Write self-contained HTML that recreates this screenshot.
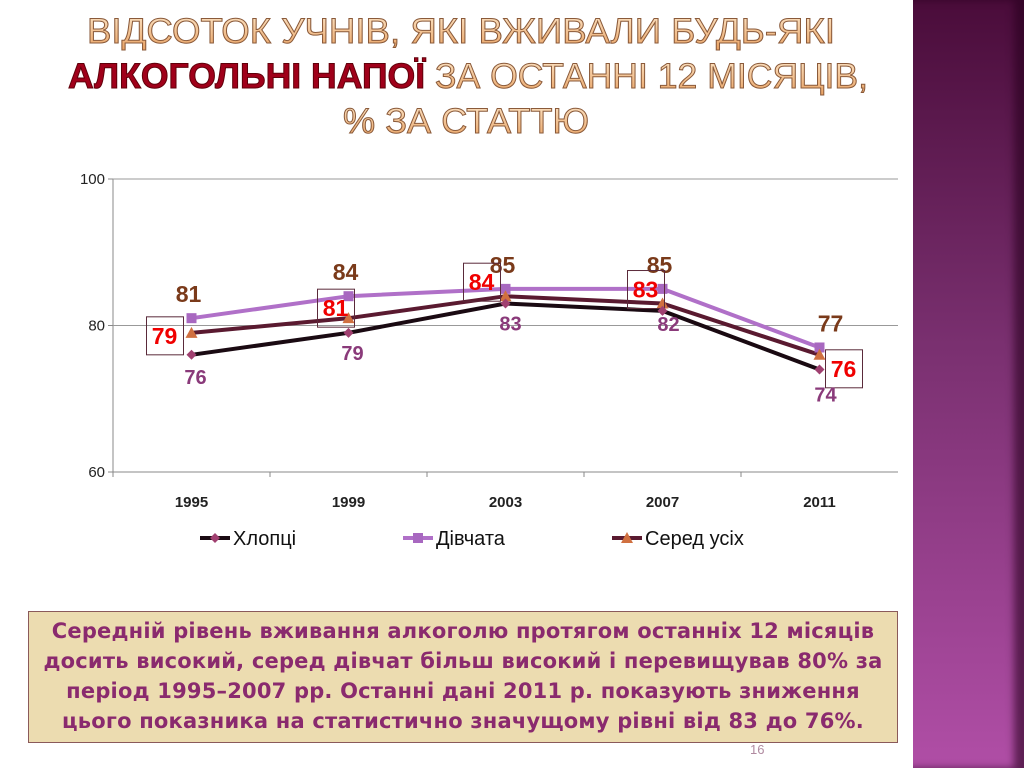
<!DOCTYPE html>
<html><head><meta charset="utf-8"><style>
body{margin:0;width:1024px;height:768px;overflow:hidden;background:#fff;font-family:"Liberation Sans",sans-serif;position:relative}
#side{position:absolute;left:913px;top:0;width:111px;height:768px;background:linear-gradient(#4a0c3a,#7a3070 45%,#b04ea6);box-shadow:inset -10px 0 8px rgba(40,0,30,.6)}
#box{position:absolute;left:28px;top:611px;width:870px;height:132px;background:#ecdcb0;border:1px solid #8a5a5a;box-sizing:border-box;color:#8a2a6e;font:bold 21px "DejaVu Sans",sans-serif;text-align:center;line-height:30px;padding-top:4px;letter-spacing:0.2px;white-space:nowrap}
#pg{position:absolute;left:750px;top:742px;color:#b08aa0;font-size:13px}
</style></head><body>
<div id="side"></div>
<svg width="900" height="160" style="position:absolute;left:0;top:0">
<defs><linearGradient id="tg" x1="0" y1="0" x2="0" y2="1"><stop offset="0" stop-color="#fde6c8"/><stop offset="1" stop-color="#e8a060"/></linearGradient></defs>
<g font-family="Liberation Sans,sans-serif" font-size="35" stroke="#8a5a3a" stroke-width="1" fill="url(#tg)" text-anchor="middle">
<text x="461" y="43" textLength="748" lengthAdjust="spacingAndGlyphs">ВІДСОТОК УЧНІВ, ЯКІ ВЖИВАЛИ БУДЬ-ЯКІ</text>
<text x="468" y="88" textLength="800" lengthAdjust="spacingAndGlyphs"><tspan fill="#a0001a" stroke="#60000a" font-weight="bold">АЛКОГОЛЬНІ НАПОЇ</tspan> ЗА ОСТАННІ 12 МІСЯЦІВ,</text>
<text x="466" y="133" textLength="246" lengthAdjust="spacingAndGlyphs">% ЗА СТАТТЮ</text>
</g></svg>
<svg id="ch" width="910" height="600" style="position:absolute;left:0;top:0"></svg>
<div id="box">Середній рівень вживання алкоголю протягом останніх 12 місяців<br>досить високий, серед дівчат більш високий і перевищував 80% за<br>період 1995–2007 рр. Останні дані 2011 р. показують зниження<br>цього показника на статистично значущому рівні від 83 до 76%.</div>
<div id="pg">16</div>
<script>
const years=["1995","1999","2003","2007","2011"];
const boys=[76,79,83,82,74];
const girls=[81,84,85,85,77];
const total=[79,81,84,83,76];
const yTicks=[60,80,100];
const NS="http://www.w3.org/2000/svg",svg=document.getElementById('ch');
const L=113,R=898,T=179,B=472;
const x=i=>L+(R-L)*(i+0.5)/years.length;
const y=v=>B-(v-60)/40*(B-T);
function el(t,a,p){const e=document.createElementNS(NS,t);for(const k in a)e.setAttribute(k,a[k]);(p||svg).appendChild(e);return e;}
function tx(s,a){const e=el('text',a);e.textContent=s;return e;}
const ax=el('line',{x1:L,y1:T,x2:L,y2:B,stroke:'#888'});


const bx=el('line',{x1:L,y1:B,x2:R,y2:B,stroke:'#888'});


yTicks.forEach(v=>{
 if(v>60){const g=el('line',{x1:L,y1:y(v),x2:R,y2:y(v),stroke:'#999'});}
 el('line',{x1:L-5,y1:y(v),x2:L,y2:y(v),stroke:'#888'});
 const t=tx(v,{x:L-8,y:y(v)+5,'text-anchor':'end','font-size':15,fill:'#222'});
 
 
});
years.forEach((s,i)=>{
 el('line',{x1:L+(R-L)*i/5,y1:B,x2:L+(R-L)*i/5,y2:B+5,stroke:'#888'});
 const t=tx(s,{x:x(i),y:507,'text-anchor':'middle','font-size':15,'font-weight':'bold',fill:'#222'});
 
 
});
function series(d,col,name){
 const p=el('polyline',{points:d.map((v,i)=>x(i)+','+y(v)).join(' '),fill:'none',stroke:col,'stroke-width':4});
 
 
}
function marker(kind,cx,cy,col){
 if(kind==='sq')return el('rect',{x:cx-5,y:cy-5,width:10,height:10,fill:col});
 if(kind==='dia')return el('polygon',{points:`${cx},${cy-5} ${cx+5},${cy} ${cx},${cy+5} ${cx-5},${cy}`,fill:col});
 return el('polygon',{points:`${cx},${cy-6} ${cx+6},${cy+5} ${cx-6},${cy+5}`,fill:col});
}
series(girls,'#b070c8','girls');series(total,'#5a1a30','total');series(boys,'#1a0a12','boys');
girls.forEach((v,i)=>{const m=marker('sq',x(i),y(v),'#a868c0');
 const t=tx(v,{x:x(i)-3+(i==4?14:0),y:y(v)-16,'text-anchor':'middle','font-size':23,'font-weight':'bold',fill:'#7a3a1a'});});
total.forEach((v,i)=>{const m=marker('tri',x(i),y(v),'#d07040');
 const cx=x(i)+[-27,-13,-24,-17,24][i],cy=y(v)+[3,-10,-14,-14,14][i];
 const r=el('rect',{x:cx-18,y:cy-19,width:37,height:38,fill:'none',stroke:'#5a2a3a'});
 const t=tx(v,{x:cx,y:cy+8,'text-anchor':'middle','font-size':23,'font-weight':'bold',fill:'#f00000'});});
boys.forEach((v,i)=>{const m=marker('dia',x(i),y(v),'#a04070');
 const t=tx(v,{x:x(i)+[4,4,5,6,6][i],y:y(v)+[29,27,27,20,32][i],'text-anchor':'middle','font-size':20,'font-weight':'bold',fill:'#8a3a7a'});});
const leg=[["Хлопці",'#1a0a12','dia','#a04070',200],["Дівчата",'#b070c8','sq','#a868c0',403],["Серед усіх",'#5a1a30','tri','#d07040',612]];
leg.forEach(l=>{
 const g=el('line',{x1:l[4],y1:538,x2:l[4]+30,y2:538,stroke:l[1],'stroke-width':4});
 
 
 marker(l[2],l[4]+15,538,l[3]);
 const t=tx(l[0],{x:l[4]+33,y:545,'font-size':20,fill:'#111'});
 
 
});
</script>
</body></html>
